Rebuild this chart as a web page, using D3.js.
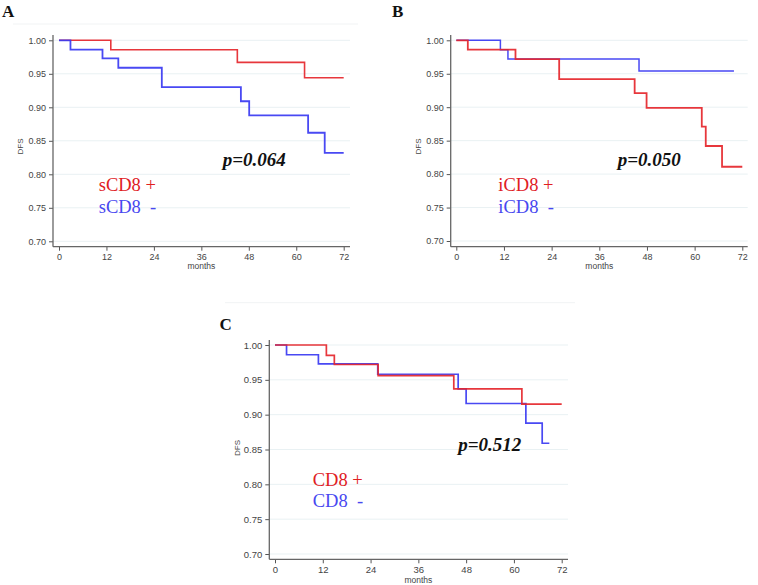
<!DOCTYPE html>
<html>
<head>
<meta charset="utf-8">
<script src="https://cdn.jsdelivr.net/npm/d3@7"></script>
<style>
  html, body { margin: 0; padding: 0; background: #fff; }
  svg { display: block; }
</style>
</head>
<body>
<svg id="chart" width="758" height="585"></svg>
<script>
// ---------------- DATA ----------------
const monthTicks = [0, 12, 24, 36, 48, 60, 72];
const dfsTicks = [0.70, 0.75, 0.80, 0.85, 0.90, 0.95, 1.00];
const xLabel = "months";
const yLabel = "DFS";

// Panel A
const sCD8posTime = [0, 13.1, 45.1, 62.1, 72];
const sCD8posDFS  = [1.000, 0.986, 0.967, 0.944, 0.944];
const sCD8negTime = [0, 2.9, 11.0, 15.0, 26.0, 46.0, 48.1, 63.0, 67.2, 72];
const sCD8negDFS  = [1.000, 0.986, 0.973, 0.959, 0.930, 0.909, 0.888, 0.862, 0.832, 0.832];
// Panel B
const iCD8posTime = [0, 2.9, 14.9, 25.9, 44.9, 47.9, 61.8, 62.8, 66.9, 72];
const iCD8posDFS  = [1.000, 0.986, 0.972, 0.942, 0.921, 0.899, 0.871, 0.842, 0.811, 0.811];
const iCD8negTime = [0, 11.1, 13.0, 46.0, 69.9];
const iCD8negDFS  = [1.000, 0.986, 0.972, 0.954, 0.954];
// Panel C
const CD8posTime = [0, 12.9, 14.9, 25.9, 44.9, 62.0, 72];
const CD8posDFS  = [1.000, 0.985, 0.972, 0.956, 0.937, 0.915, 0.915];
const CD8negTime = [0, 2.9, 10.9, 25.8, 46.0, 48.0, 63.0, 67.1, 68.9];
const CD8negDFS  = [1.000, 0.986, 0.973, 0.958, 0.937, 0.916, 0.888, 0.859, 0.859];

const panelLetters = ["A", "B", "C"];
const posLabels = ["sCD8 +", "iCD8 +", "CD8 +"];
const negLabels = ["sCD8  -", "iCD8  -", "CD8  -"];
const pValues = ["p=0.064", "p=0.050", "p=0.512"];

// ---------------- STYLE / LAYOUT ----------------
const RED = "#e5262b";
const BLUE = "#3a3af2";
const RED_TXT = "#e0201f";
const BLUE_TXT = "#4848f0";

const layouts = [
  { letter: [2, 17], axisX: 53, x0: 59, x72: 343.7, y100: 40.3, y070: 241.3, top: 35, bottom: 246.7, right: 350,
    frameY: 24, frameX: [13, 358], pos: [98.7, 190.5], neg: [98.7, 212.5], p: [222.7, 165.5], dfs: [20.5, 146.5],
    monthsY: 268.5, fs: 9 },
  { letter: [392, 17], axisX: 450.7, x0: 456.3, x72: 742.3, y100: 40.3, y070: 241, top: 35, bottom: 246.7, right: 747.7,
    frameY: null, frameX: null, pos: [498.3, 190.5], neg: [498.3, 212.5], p: [617.7, 166], dfs: [418.5, 146.5],
    monthsY: 268.5, fs: 9 },
  { letter: [219.5, 330], axisX: 269.3, x0: 275, x72: 561.7, y100: 345, y070: 554, top: 340, bottom: 559.3, right: 568,
    frameY: 302.7, frameX: [225, 575], pos: [312.7, 485.7], neg: [312.7, 507.3], p: [458.3, 451], dfs: [237, 448],
    monthsY: 582.5, fs: 9.5 }
];

const series = [
  [ {t: sCD8posTime, s: sCD8posDFS, c: RED, w: 1.6}, {t: sCD8negTime, s: sCD8negDFS, c: BLUE, w: 1.8} ],
  [ {t: iCD8negTime, s: iCD8negDFS, c: BLUE, w: 1.5}, {t: iCD8posTime, s: iCD8posDFS, c: RED, w: 1.8} ],
  [ {t: CD8negTime, s: CD8negDFS, c: BLUE, w: 1.7}, {t: CD8posTime, s: CD8posDFS, c: RED, w: 1.7} ]
];

const svg = d3.select("#chart");

layouts.forEach((L, i) => {
  const g = svg.append("g");
  const x = d3.scaleLinear().domain([0, 72]).range([L.x0, L.x72]);
  const y = d3.scaleLinear().domain([0.70, 1.00]).range([L.y070, L.y100]);

  if (L.frameY !== null) {
    g.append("line").attr("x1", L.frameX[0]).attr("x2", L.frameX[1])
      .attr("y1", L.frameY).attr("y2", L.frameY)
      .attr("stroke", "#f1f3f4").attr("stroke-width", 1);
  }

  // gridlines
  g.append("g").selectAll("line").data(dfsTicks).join("line")
    .attr("x1", L.axisX).attr("x2", L.right)
    .attr("y1", d => y(d)).attr("y2", d => y(d))
    .attr("stroke", "#e9f1f3").attr("stroke-width", 1);

  // y axis
  const yAx = g.append("g").attr("transform", `translate(${L.axisX},0)`)
    .call(d3.axisLeft(y).tickValues(dfsTicks).tickFormat(d3.format(".2f")).tickSize(4).tickSizeOuter(0).tickPadding(3));
  yAx.select(".domain").remove();
  yAx.selectAll(".tick line").attr("stroke", "#555").attr("stroke-width", 1);
  yAx.selectAll(".tick text").attr("font-family", "Liberation Sans, Arial, sans-serif")
    .attr("font-size", L.fs).attr("fill", "#444");

  // x axis
  const xAx = g.append("g").attr("transform", `translate(0,${L.bottom})`)
    .call(d3.axisBottom(x).tickValues(monthTicks).tickFormat(d3.format("d")).tickSize(4).tickSizeOuter(0).tickPadding(2.5));
  xAx.select(".domain").remove();
  xAx.selectAll(".tick line").attr("stroke", "#555").attr("stroke-width", 1);
  xAx.selectAll(".tick text").attr("font-family", "Liberation Sans, Arial, sans-serif")
    .attr("font-size", L.fs).attr("fill", "#444");

  // axis lines
  g.append("line").attr("x1", L.axisX).attr("x2", L.axisX).attr("y1", L.top).attr("y2", L.bottom)
    .attr("stroke", "#666").attr("stroke-width", 1.3);
  g.append("line").attr("x1", L.axisX).attr("x2", L.right).attr("y1", L.bottom).attr("y2", L.bottom)
    .attr("stroke", "#666").attr("stroke-width", 1.3);

  // axis titles
  g.append("text").attr("x", (L.x0 + L.x72) / 2).attr("y", L.monthsY)
    .attr("text-anchor", "middle").attr("font-family", "Liberation Sans, Arial, sans-serif")
    .attr("font-size", 8.5).attr("fill", "#444").text(xLabel);
  g.append("text").attr("transform", `translate(${L.dfs[0]},${L.dfs[1]}) rotate(-90)`)
    .attr("text-anchor", "middle").attr("dy", "0.35em").attr("font-family", "Liberation Sans, Arial, sans-serif")
    .attr("font-size", 8).attr("fill", "#444").text(yLabel);

  // curves
  const line = d3.line().x(d => x(d[0])).y(d => y(d[1])).curve(d3.curveStepAfter);
  series[i].forEach(s => {
    const pts = s.t.map((t, k) => [t, s.s[k]]);
    g.append("path").attr("d", line(pts)).attr("fill", "none")
      .attr("stroke", s.c).attr("stroke-width", s.w).attr("stroke-opacity", 0.92);
  });

  // legend text
  g.append("text").attr("x", L.pos[0]).attr("y", L.pos[1])
    .attr("font-family", "Liberation Serif, Times New Roman, serif").attr("font-size", 18.5)
    .attr("fill", RED_TXT).style("white-space", "pre").text(posLabels[i]);
  g.append("text").attr("x", L.neg[0]).attr("y", L.neg[1])
    .attr("font-family", "Liberation Serif, Times New Roman, serif").attr("font-size", 18.5)
    .attr("fill", BLUE_TXT).style("white-space", "pre").text(negLabels[i]);

  // p value
  g.append("text").attr("x", L.p[0]).attr("y", L.p[1])
    .attr("font-family", "Liberation Serif, Times New Roman, serif").attr("font-size", 19)
    .attr("font-weight", "bold").attr("font-style", "italic").attr("fill", "#111").text(pValues[i]);

  // panel letter
  g.append("text").attr("x", L.letter[0]).attr("y", L.letter[1])
    .attr("font-family", "Liberation Serif, Times New Roman, serif").attr("font-size", 17)
    .attr("font-weight", "bold").attr("fill", "#111").text(panelLetters[i]);
});
</script>
</body>
</html>
